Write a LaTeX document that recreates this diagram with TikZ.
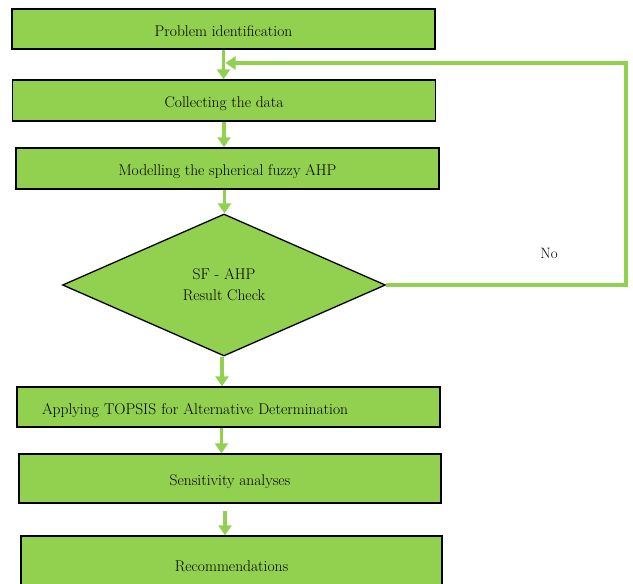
\documentclass[tikz,border=0pt]{standalone}
\usetikzlibrary{arrows.meta,shapes.geometric,positioning}
\definecolor{leaf}{HTML}{92D050}
\tikzset{
  stepbox/.style={draw=black,line width=1.5pt,fill=leaf,minimum width=423pt,minimum height=40pt,inner sep=0pt,text height=16pt,text depth=2pt,font=\fontsize{15.5}{18}\selectfont},
  check/.style={diamond,draw=black,line width=1.3pt,fill=leaf,aspect=2.27,minimum width=323pt,minimum height=142pt,inner sep=0pt,align=center,font=\fontsize{15.5}{21}\selectfont},
  flow/.style={draw=leaf,line width=3.5pt,-{Triangle[length=10pt,width=13pt]}}
}

\begin{document}
\begin{tikzpicture}[x=1pt,y=1pt]
\useasboundingbox (0,0) rectangle (633,-584);
\node[stepbox] (ident) at (223.5,-29) {Problem identification};
\node[stepbox,minimum height=41pt] (data) at (224,-100.5) {Collecting the data};
\node[stepbox,minimum height=41pt] (model) at (227.5,-168.5) {Modelling the spherical fuzzy AHP};
\node[check] (check) at (224,-285) {SF - AHP\\Result Check};
\node[stepbox,text width=373pt,align=left] (topsis) at (228.5,-407) {Applying TOPSIS for Alternative Determination};
\node[stepbox,minimum width=422pt,minimum height=49pt] (sens) at (230,-478.5) {Sensitivity analyses};
\node[stepbox,minimum width=421pt,minimum height=56pt] (recom) at (231.5,-564) {Recommendations};
\node[font=\fontsize{15}{18}\selectfont] (no) at (549,-253) {No};
% main flow
\draw[flow] (ident.south) -- (ident.south |- data.north);
\draw[flow] (data.south) -- (data.south |- model.north);
\draw[flow] ([xshift=-3pt]model.south) -- ([xshift=-3pt]model.south |- check.north);
\draw[flow] ([xshift=-2pt]check.south) -- ([xshift=-2pt]check.south |- topsis.north);
\draw[flow] ([xshift=-7pt]topsis.south) -- ([xshift=-7pt]topsis.south |- sens.north);
\draw[flow] ([xshift=-5pt,yshift=-7pt]sens.south) -- ([xshift=-5pt]sens.south |- recom.north);
% loop back
\coordinate (back) at (626,-63);
\draw[flow] (check.east) -| (back) -- ([xshift=2pt]ident.south |- back);
\end{tikzpicture}
\end{document}
